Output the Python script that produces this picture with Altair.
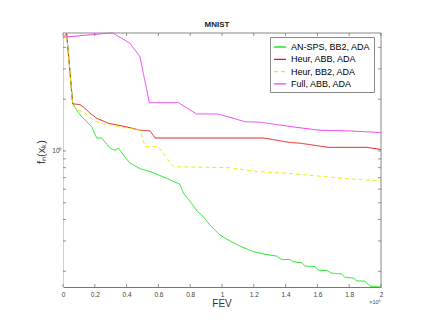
import altair as alt
import pandas as pd

FONT = "Liberation Sans"

series_names = ["AN-SPS, BB2, ADA", "Heur, ABB, ADA", "Heur, BB2, ADA", "Full, ABB, ADA"]
series_colors = ["#1ee61e", "#e81a1a", "#f0f000", "#f23ef2"]
series_dash = [[1, 0], [1, 0], [4, 3], [1, 0]]

# FEV in units of 1e6
green_x = [0.0, 0.023, 0.061, 0.086, 0.118, 0.149, 0.181, 0.212, 0.243, 0.296, 0.327, 0.348,
           0.379, 0.421, 0.484, 0.547, 0.610, 0.673, 0.736, 0.757, 0.799, 0.841, 0.882, 0.925,
           0.987, 1.050, 1.113, 1.197, 1.281, 1.344, 1.375, 1.428, 1.448, 1.501, 1.522, 1.585,
           1.606, 1.658, 1.690, 1.753, 1.774, 1.826, 1.847, 1.899, 1.931, 2.0]
green_y = [4.58, 4.80, 1.89, 1.73, 1.58, 1.48, 1.38, 1.19, 1.19, 1.04, 1.01, 1.04,
           0.95, 0.85, 0.79, 0.76, 0.72, 0.68, 0.64, 0.57, 0.51, 0.45, 0.415, 0.37,
           0.325, 0.30, 0.28, 0.26, 0.25, 0.245, 0.234, 0.234, 0.227, 0.224, 0.214, 0.213,
           0.203, 0.202, 0.195, 0.193, 0.184, 0.183, 0.176, 0.175, 0.164, 0.162]

red_x = [0.0, 0.023, 0.061, 0.107, 0.138, 0.170, 0.212, 0.285, 0.401, 0.484, 0.547,
         0.579, 1.260, 1.428, 1.491, 1.669, 1.910, 2.0]
red_y = [4.58, 4.80, 1.88, 1.86, 1.77, 1.66, 1.55, 1.45, 1.38, 1.32, 1.31,
         1.19, 1.19, 1.12, 1.11, 1.05, 1.05, 1.02]

yellow_x = [0.0, 0.023, 0.061, 0.096, 0.138, 0.191, 0.233, 0.296, 0.401, 0.484, 0.516, 0.599,
            0.694, 1.050, 1.218, 1.428, 1.574, 1.784, 2.0]
yellow_y = [4.58, 4.80, 1.83, 1.73, 1.66, 1.51, 1.45, 1.42, 1.36, 1.32, 1.06, 1.06,
            0.81, 0.80, 0.76, 0.74, 0.72, 0.69, 0.67]

magenta_x = [0.0, 0.296, 0.313, 0.421, 0.484, 0.543, 0.725, 0.841, 0.977, 1.145, 1.239,
             1.447, 1.616, 1.784, 2.0]
magenta_y = [4.58, 4.85, 4.85, 4.23, 3.53, 1.91, 1.91, 1.64, 1.64, 1.48, 1.47,
             1.38, 1.32, 1.31, 1.28]

x_ticks = [0, 0.2, 0.4, 0.6, 0.8, 1, 1.2, 1.4, 1.6, 1.8, 2]
y_ticks = [0.2, 0.3, 0.4, 0.5, 0.6, 0.7, 0.8, 0.9, 1, 2, 3, 4]
y_domain = [0.162, 4.85]

title_text = ["MNIST"]
xlabel_text = ["FEV"]
ylabel_text = ["fₙ(xₖ)"]
xexp_text = ["×10⁶"]

W, H = 318, 254

rows = []
for name, xs, ys in zip(series_names, [green_x, red_x, yellow_x, magenta_x],
                        [green_y, red_y, yellow_y, magenta_y]):
    for i, (a, b) in enumerate(zip(xs, ys)):
        rows.append({"series": name, "fev": a, "val": b, "i": i})
df = pd.DataFrame(rows)

xscale = alt.Scale(domain=[0, 2], nice=False)
yscale = alt.Scale(type="log", domain=y_domain, nice=False)

legend = alt.Legend(title=None, orient="none", legendX=207, legendY=4, strokeColor="#888",
                    fillColor="white", padding=3, labelFontSize=9, labelFont=FONT,
                    labelColor="black", symbolType="stroke", symbolSize=144,
                    symbolStrokeWidth=1.3, rowPadding=0.3, labelOffset=4)

x_axis = alt.Axis(values=x_ticks, format="~g", ticks=False, grid=False,
                  labelFontSize=6.5, labelColor="#444", labelPadding=4,
                  labelOverlap=False, labelFlush=False,
                  domainColor="#777", title=None, labelFont=FONT)
y_axis = alt.Axis(values=y_ticks, labelExpr="datum.value == 1 ? '10⁰' : ''",
                  ticks=False, grid=False, domainColor="#d0d0d0", labelPadding=2,
                  labelOverlap=False,
                  title=None, labelFontSize=6.5, labelColor="#444", labelFont=FONT)

lines = alt.Chart(df).mark_line(strokeWidth=1).encode(
    x=alt.X("fev:Q", scale=xscale, axis=x_axis),
    y=alt.Y("val:Q", scale=yscale, axis=y_axis),
    color=alt.Color("series:N", scale=alt.Scale(domain=series_names, range=series_colors),
                    legend=legend),
    strokeDash=alt.StrokeDash("series:N", scale=alt.Scale(domain=series_names, range=series_dash),
                              legend=legend),
    order="i:Q",
)

xt = pd.DataFrame({"fev": x_ticks})
yt = pd.DataFrame({"val": y_ticks})
one = pd.DataFrame({"k": [0]})

tick_color = "#777"
bottom_ticks = alt.Chart(xt).mark_rule(color=tick_color, strokeWidth=0.8).encode(
    x=alt.X("fev:Q", scale=xscale, axis=x_axis), y=alt.value(H), y2=alt.value(H - 3))
top_ticks = alt.Chart(xt).mark_rule(color=tick_color, strokeWidth=0.8).encode(
    x=alt.X("fev:Q", scale=xscale, axis=x_axis), y=alt.value(0), y2=alt.value(3))
left_ticks = alt.Chart(yt).mark_rule(color=tick_color, strokeWidth=0.8).encode(
    y=alt.Y("val:Q", scale=yscale, axis=y_axis), x=alt.value(0), x2=alt.value(3))
right_ticks = alt.Chart(yt).mark_rule(color=tick_color, strokeWidth=0.8).encode(
    y=alt.Y("val:Q", scale=yscale, axis=y_axis), x=alt.value(W), x2=alt.value(W - 3))
top_line = alt.Chart(one).mark_rule(color="#888", strokeWidth=1).encode(
    x=alt.value(0), x2=alt.value(W), y=alt.value(0))
right_line = alt.Chart(one).mark_rule(color="#888", strokeWidth=1).encode(
    x=alt.value(W), y=alt.value(0), y2=alt.value(H))

title = alt.Chart(pd.DataFrame({"t": title_text})).mark_text(
    font=FONT, fontSize=8, fontWeight="bold", baseline="bottom", color="#222").encode(
    text="t:N", x=alt.value(154), y=alt.value(-4))
xlabel = alt.Chart(pd.DataFrame({"t": xlabel_text})).mark_text(
    font=FONT, fontSize=10, baseline="middle", color="#333").encode(
    text="t:N", x=alt.value(159), y=alt.value(271))
ylabel = alt.Chart(pd.DataFrame({"t": ylabel_text})).mark_text(
    font=FONT, fontSize=11, baseline="middle", angle=270, color="#333").encode(
    text="t:N", x=alt.value(-21), y=alt.value(119))
xexp = alt.Chart(pd.DataFrame({"t": xexp_text})).mark_text(
    font=FONT, fontSize=5.5, baseline="middle", color="#444").encode(
    text="t:N", x=alt.value(312), y=alt.value(269))

chart = alt.layer(
    lines, top_line, right_line, bottom_ticks, top_ticks, left_ticks, right_ticks,
    title, xlabel, ylabel, xexp
).properties(
    width=W, height=H,
    padding={"left": 55, "top": 25, "right": 33, "bottom": 37},
    autosize=alt.AutoSizeParams(type="none"),
).configure_view(stroke=None).configure_axis(labelOverlap=False)

chart.save("out.html", embed_options={"renderer": "svg", "actions": False})
